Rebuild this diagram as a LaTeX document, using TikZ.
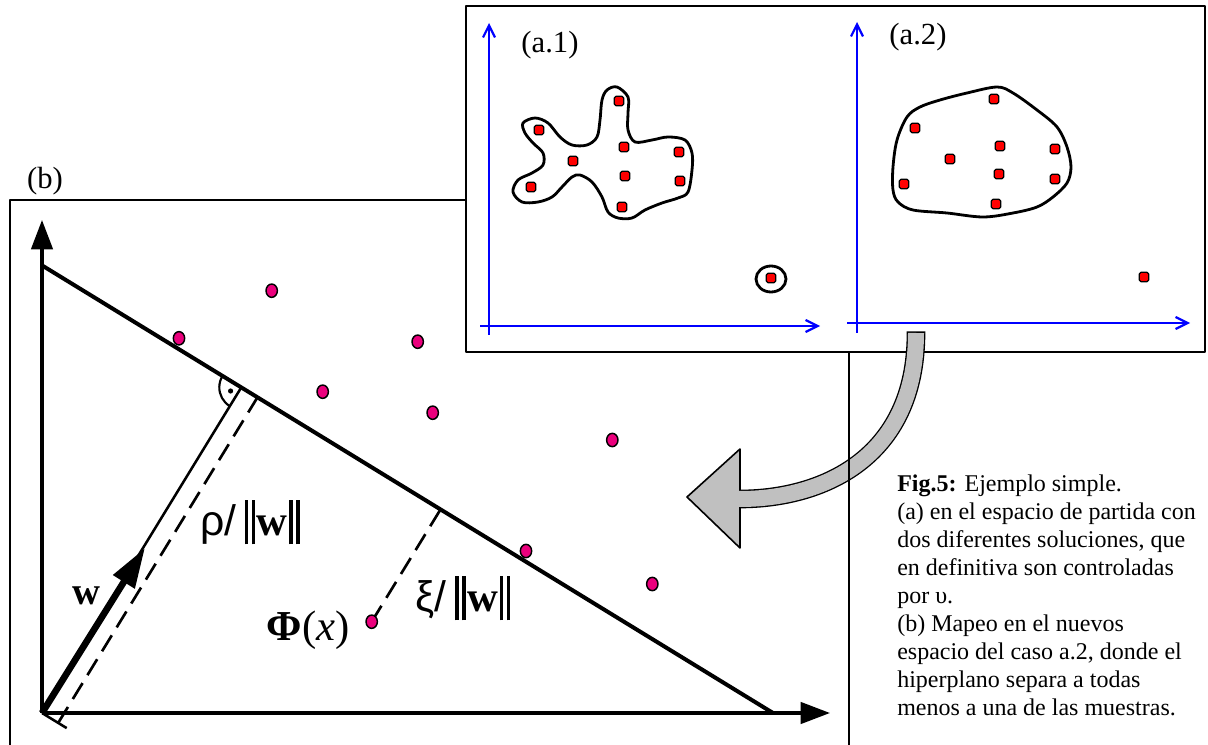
\documentclass[tikz,border=0pt]{standalone}
\usepackage{fontspec}
\setmainfont{Liberation Serif}
\setsansfont{Liberation Sans}
\usetikzlibrary{arrows.meta,shapes.geometric}
\definecolor{ptmag}{RGB}{235,0,125}
\definecolor{arrgray}{RGB}{192,192,192}
\newcommand\dblbar{\rule[-0.22em]{0.085em}{1.05em}\kern0.075em\rule[-0.22em]{0.085em}{1.05em}}
\begin{document}
\begin{tikzpicture}[x=0.75pt,y=-0.75pt,line join=round,
  redpt/.style={rectangle,draw=black,fill=red,line width=0.9pt,minimum size=7pt,inner sep=0pt,rounded corners=1.2pt},
  magpt/.style={ellipse,draw=black,fill=ptmag,line width=1.1pt,minimum width=8.5pt,minimum height=10pt,inner sep=0pt},
  blob/.style={draw=black,line width=2.1pt},
  blueax/.style={draw=blue,line width=1.6pt,-{Straight Barb[length=9pt,width=9pt]}},
  blackax/.style={draw=black,line width=2.6pt,-{Triangle[length=22pt,width=16pt]}},
  lbl/.style={font=\fontsize{23}{23}\selectfont,inner sep=0pt},
  formula/.style={font=\fontsize{32}{32}\selectfont,inner sep=0pt},
  dimdash/.style={draw=black,line width=2pt,dash pattern=on 14pt off 7pt},
]
\useasboundingbox (0,0) rectangle (1208,745);

% ---------- panel (b) ----------
\draw[line width=1.1pt] (10,745) -- (10,200) -- (849,200) -- (849,745);
\node[lbl] (lb) at (45,181) {(b)};
\coordinate (O) at (42,713);
\coordinate (Ytop) at (42,220);
\coordinate (Xend) at (830,713);
\draw[blackax] (O) -- (Ytop);
\draw[blackax] (O) -- (Xend);
\coordinate (H0) at (43,266);
\coordinate (H1) at (773,713);
\draw[line width=3pt] (H0) -- (H1);
\coordinate (F) at (241.3,387.4);
\draw[line width=1.9pt] (O) -- (F);
\coordinate (W) at (145,548);
\draw[line width=5pt,-{Triangle[length=30pt,width=18pt]}] (O) -- (W);
\coordinate (D0) at (58.2,722.9);
\coordinate (D1) at (257.5,397.3);
\draw[dimdash] (D0) -- (D1);
\coordinate (T1) at (66.7,728.1);
\draw[line width=1.9pt] (O) -- (T1);
\draw[line width=1.6pt] (F) ++(121.4:22) arc[start angle=121.4,end angle=211.5,radius=22];
\fill (230.6,391) circle[radius=2.6];

\coordinate (phic) at (371.7,621.7);
\coordinate (G) at (440.6,509.3);
\draw[dimdash] (phic) -- (G);
\node[magpt] (q1) at (271.7,290.7) {};
\node[magpt] (q2) at (179,338.3) {};
\node[magpt] (q3) at (417.7,341.7) {};
\node[magpt] (q4) at (322.7,391.7) {};
\node[magpt] (q5) at (432.7,412.7) {};
\node[magpt] (q6) at (612.3,440) {};
\node[magpt] (q7) at (526,551) {};
\node[magpt] (q8) at (652.3,584) {};
\node[magpt] (phi) at (phic) {};

\node[formula] (rho) at (250,522) {\sffamily ρ/\kern0.2em\dblbar\kern0.04em\rmfamily\bfseries w\kern0.04em\dblbar};
\node[formula] (xi) at (463,598) {\sffamily ξ/\kern0.2em\dblbar\kern0.04em\rmfamily\bfseries w\kern0.04em\dblbar};
\node[formula] (phil) at (308,630) {\bfseries Φ\mdseries(\itshape x\/\upshape)};
\node[font=\fontsize{29}{29}\selectfont\bfseries,inner sep=0pt] (wl) at (86,596) {w};

% ---------- panel (a) ----------
\draw[fill=white,line width=1.6pt] (466,6) rectangle (1205,352);
\node[lbl] (la1) at (550,45) {(a.1)};
\node[lbl] (la2) at (918,37) {(a.2)};
% axes a.1
\coordinate (a1y0) at (489,335); \coordinate (a1y1) at (489,23);
\coordinate (a1x0) at (480,326); \coordinate (a1x1) at (820,326);
\draw[blueax] (a1y0) -- (a1y1);
\draw[blueax] (a1x0) -- (a1x1);
% axes a.2
\coordinate (a2y0) at (857,333); \coordinate (a2y1) at (857,22);
\coordinate (a2x0) at (847,323); \coordinate (a2x1) at (1190,323);
\draw[blueax] (a2y0) -- (a2y1);
\draw[blueax] (a2x0) -- (a2x1);
% blob a.1
\draw[blob] plot[smooth cycle,tension=0.55] coordinates {(617,87) (628,97) (628,113) (628,130) (635,142) (652,140) (668,137) (685,140) (692,153) (692,170) (688,192) (678,198) (662,203) (645,210) (632,218) (618,218) (608,212) (602,197) (592,182) (580,175) (572,177) (562,187) (552,197) (538,202) (522,202) (513,192) (518,180) (532,173) (543,165) (543,153) (533,143) (525,133) (523,123) (535,118) (548,123) (560,137) (572,145) (587,145) (597,137) (600,120) (602,100) (607,90)};
\draw[blob] (771,279) ellipse[x radius=15,y radius=13];
\node[redpt] (r1) at (619,101) {};
\node[redpt] (r2) at (539,130) {};
\node[redpt] (r3) at (624,147) {};
\node[redpt] (r4) at (679,152) {};
\node[redpt] (r5) at (573,161) {};
\node[redpt] (r6) at (625,176) {};
\node[redpt] (r7) at (680,181) {};
\node[redpt] (r8) at (531,187) {};
\node[redpt] (r9) at (622,207) {};
\node[redpt] (r10) at (771,278) {};
% blob a.2
\draw[blob] plot[smooth cycle,tension=0.55] coordinates {(997,87) (1013,93) (1037,110) (1057,127) (1067,147) (1071,167) (1067,183) (1053,197) (1037,207) (1013,213) (983,217) (947,213) (913,210) (898,202) (893,190) (893,167) (897,140) (907,117) (920,107) (940,100) (967,93)};
\node[redpt] (s1) at (994,99) {};
\node[redpt] (s2) at (915,128) {};
\node[redpt] (s3) at (1000,146) {};
\node[redpt] (s4) at (1055,149) {};
\node[redpt] (s5) at (950,159) {};
\node[redpt] (s6) at (999,174) {};
\node[redpt] (s7) at (1055,179) {};
\node[redpt] (s8) at (904,184) {};
\node[redpt] (s9) at (996,204) {};
\node[redpt] (s10) at (1144,277) {};

% ---------- curved arrow ----------
\coordinate (A0) at (916,333);
\coordinate (A1) at (740,499);
\coordinate (Atip) at (687,497);
\coordinate (Ab1) at (740,449);
\coordinate (Ab2) at (740,548);
\filldraw[fill=arrgray,draw=black,line width=1.2pt] (Ab1) -- (Atip) -- (Ab2) -- cycle;
\draw[line width=14pt,black] (916,331.5) -- (A0) .. controls (916,460) and (820,499) .. (A1);
\draw[line width=12pt,arrgray] (A0) .. controls (916,460) and (820,499) .. (A1) -- (736,499);
\draw[line width=1.1pt] (849,352) -- (849,745);

% ---------- caption ----------
\node[anchor=north west,align=left,inner sep=0pt,font=\fontsize{18}{21}\selectfont] (cap) at (897,475)
{\textbf{Fig.5:} Ejemplo simple.\\
(a) en el espacio de partida con\\
dos diferentes soluciones, que\\
en definitiva son controladas\\
por υ.\\
(b) Mapeo en el nuevos\\
espacio del caso a.2, donde el\\
hiperplano separa a todas\\
menos a una de las muestras.};
\end{tikzpicture}
\end{document}
